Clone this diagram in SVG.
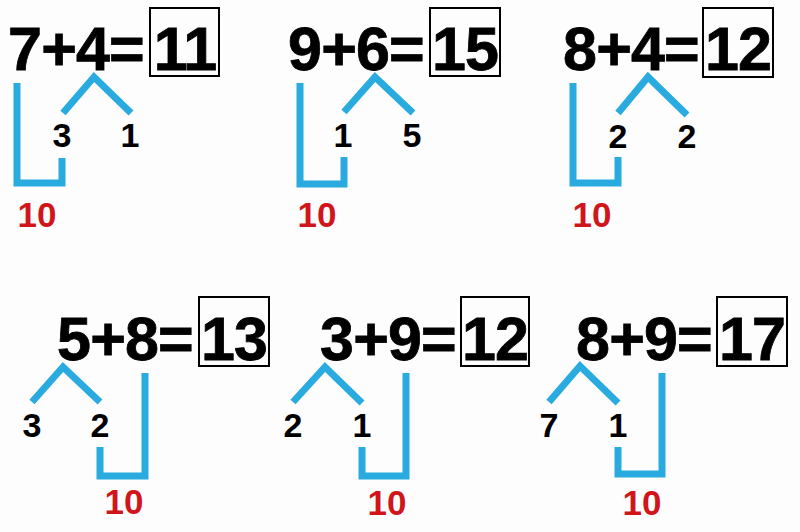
<svg xmlns="http://www.w3.org/2000/svg" width="800" height="532" viewBox="0 0 800 532">
<style>
.eq{font-family:"Liberation Sans",Arial,sans-serif;font-weight:bold;font-size:61px;fill:#000;stroke:#000;stroke-width:0.8;letter-spacing:-0.8px}
.ans{font-family:"Liberation Sans",Arial,sans-serif;font-weight:bold;font-size:61px;fill:#000;stroke:#000;stroke-width:0.8;text-anchor:middle;letter-spacing:-1px}
.box{fill:none;stroke:#000;stroke-width:2}
.part{font-family:"Liberation Sans",Arial,sans-serif;font-weight:bold;font-size:34px;fill:#000;text-anchor:middle}
.ten{font-family:"Liberation Sans",Arial,sans-serif;font-weight:bold;font-size:35px;fill:#d0161b;text-anchor:middle}
.ln{fill:none;stroke:#29abe0;stroke-width:7;stroke-linejoin:miter;stroke-linecap:butt}
</style>
<rect width="800" height="532" fill="#fdfdfd"/>

<g id="eq1">
<text class="eq" x="8" y="70">7+4=</text>
<rect class="box" x="150" y="8" width="69" height="68"/>
<text class="ans" x="185" y="70">11</text>
<text class="part" x="62" y="147">3</text>
<text class="part" x="130" y="147">1</text>
<text class="ten" x="37" y="227">10</text>
</g>

<g id="eq2">
<text class="eq" x="288" y="70">9+6=</text>
<rect class="box" x="430" y="8" width="70" height="68"/>
<text class="ans" x="465" y="70">15</text>
<text class="part" x="343" y="147">1</text>
<text class="part" x="412" y="147">5</text>
<text class="ten" x="317" y="227">10</text>
</g>

<g id="eq3">
<text class="eq" x="563" y="70">8+4=</text>
<rect class="box" x="703" y="8" width="70" height="69"/>
<text class="ans" x="738" y="70">12</text>
<text class="part" x="618" y="148">2</text>
<text class="part" x="687" y="148">2</text>
<text class="ten" x="592" y="227">10</text>
</g>

<g id="eq4">
<text class="eq" x="57" y="360">5+8=</text>
<rect class="box" x="199" y="297" width="70" height="69"/>
<text class="ans" x="234" y="360">13</text>
<text class="part" x="32" y="437">3</text>
<text class="part" x="100" y="437">2</text>
<text class="ten" x="124" y="514">10</text>
</g>

<g id="eq5">
<text class="eq" x="320" y="360">3+9=</text>
<rect class="box" x="461" y="297" width="68" height="69"/>
<text class="ans" x="495" y="360">12</text>
<text class="part" x="293" y="437">2</text>
<text class="part" x="362" y="437">1</text>
<text class="ten" x="387" y="515">10</text>
</g>

<g id="eq6">
<text class="eq" x="576" y="360">8+9=</text>
<rect class="box" x="717" y="297" width="70" height="69"/>
<text class="ans" x="752" y="360">17</text>
<text class="part" x="549" y="437">7</text>
<text class="part" x="618" y="437">1</text>
<text class="ten" x="642" y="515">10</text>
</g>

<g id="connectors">
<path class="ln" d="M17 83 V183 H62 V158"/>
<path class="ln" d="M63 113 L94 77 L131 113"/>
<path class="ln" d="M300 83 V184 H344 V157"/>
<path class="ln" d="M344 112 L375 77 L413 113"/>
<path class="ln" d="M573 83 V183 H618 V157"/>
<path class="ln" d="M618 113 L648 77 L687 115"/>
<path class="ln" d="M32 402 L63 367 L100 402"/>
<path class="ln" d="M100 447 V476 H145 V373"/>
<path class="ln" d="M293 402 L325 367 L362 403"/>
<path class="ln" d="M362 447 V476 H406 V373"/>
<path class="ln" d="M549 402 L580 366 L618 403"/>
<path class="ln" d="M618 447 V474 H662 V373"/>
</g>
</svg>
